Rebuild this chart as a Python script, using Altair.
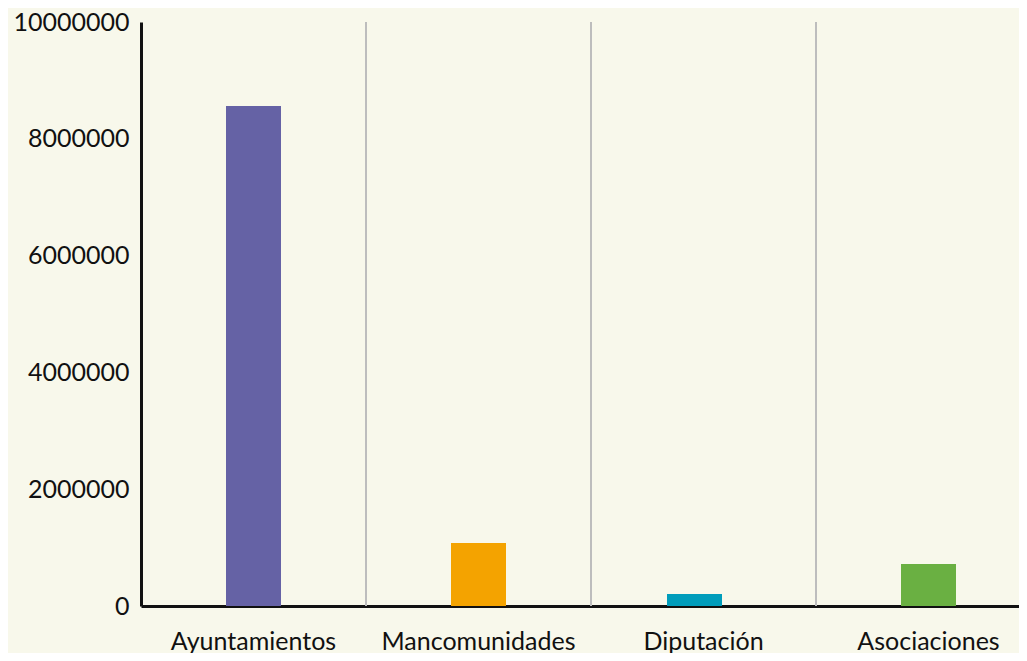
import altair as alt
import pandas as pd

categories = ["Ayuntamientos", "Mancomunidades", "Diputación", "Asociaciones"]
values = [8560000, 1080000, 205000, 720000]
colors = ["#6562a5", "#f4a300", "#009dbb", "#6ab042"]
y_ticks = [0, 2000000, 4000000, 6000000, 8000000, 10000000]

df = pd.DataFrame({"cat": categories, "val": values})
grid_df = pd.DataFrame({"cat": categories[1:]})

FONT = "Lato"
x_scale = alt.Scale(domain=categories, range=[0, 900], paddingInner=0, paddingOuter=0)

x_enc = alt.X(
    "cat:N",
    sort=categories,
    scale=x_scale,
    axis=alt.Axis(
        title=None, labelAngle=0, ticks=False, grid=False,
        labelFontSize=25, labelFont=FONT, labelColor="#111111",
        labelPadding=23, labelLimit=400, labelAlign="center",
        domainColor="#111111", domainWidth=3,
    ),
)
y_enc = alt.Y(
    "val:Q",
    scale=alt.Scale(domain=[0, 10000000], nice=False),
    axis=alt.Axis(
        title=None, values=y_ticks, format="d", ticks=False, grid=False,
        labelFontSize=25, labelFont=FONT, labelColor="#111111",
        labelPadding=12, domainColor="#111111", domainWidth=3,
    ),
)

grid = alt.Chart(grid_df).mark_rule(color="#bdbdbd", strokeWidth=2).encode(
    x=alt.X("cat:N", sort=categories, bandPosition=0, scale=x_scale, axis=None),
    y=alt.value(0),
    y2=alt.value(584),
)

color_enc = alt.Color("cat:N", scale=alt.Scale(domain=categories, range=colors), legend=None)

bars = alt.Chart(df).transform_filter(alt.datum.cat != "Diputación").mark_bar(width=55).encode(
    x=x_enc, y=y_enc, color=color_enc
)
bars_dip = alt.Chart(df).transform_filter(alt.datum.cat == "Diputación").mark_bar(width=55, xOffset=-9).encode(
    x=x_enc, y=y_enc, color=color_enc
)
bar_layer = alt.layer(bars, bars_dip)

chart = alt.layer(grid, bar_layer).resolve_axis(x="independent").properties(
    width=878,
    height=584,
    background="#f8f8eb",
    autosize=alt.AutoSizeParams(type="none"),
    padding={"left": 133, "top": 14, "right": 0, "bottom": 47},
).configure_view(stroke=None)

chart.save("out.html", embed_options={"renderer": "svg", "actions": False})
